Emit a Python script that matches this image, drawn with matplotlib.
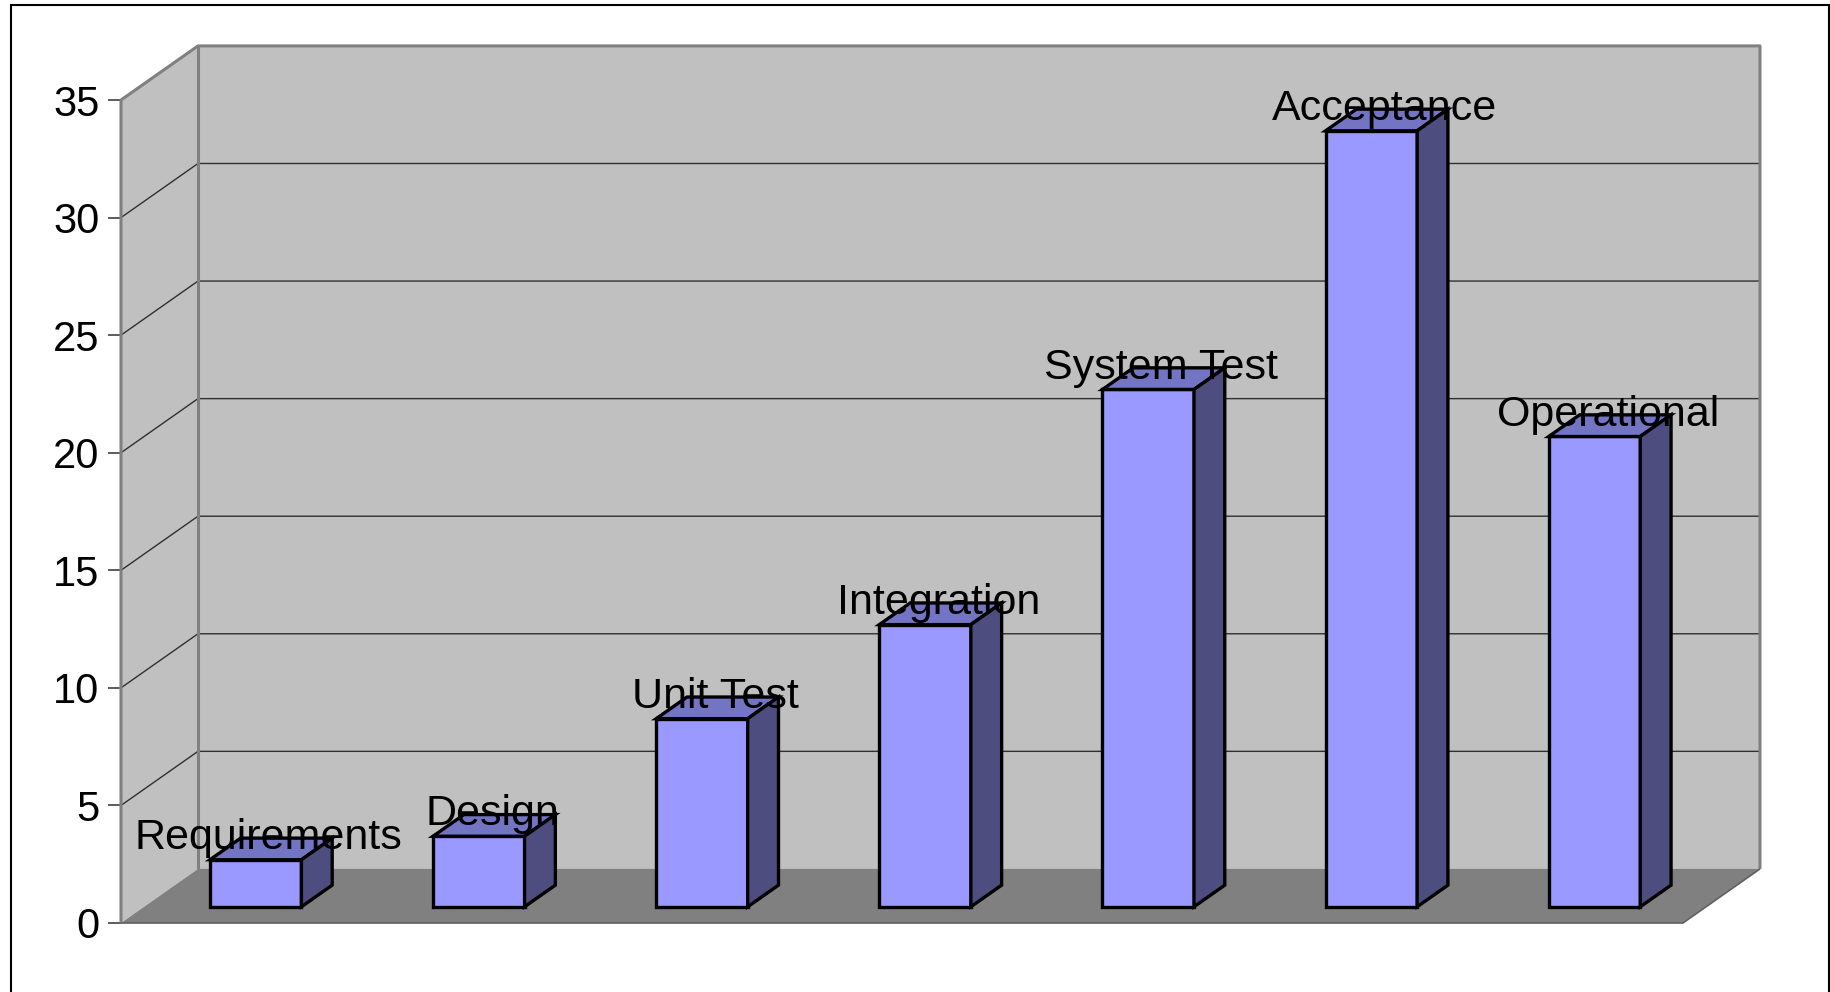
import matplotlib
matplotlib.use("Agg")
import matplotlib.pyplot as plt
from matplotlib.patches import Polygon, Rectangle

# datos del gráfico
fases = ["Requirements", "Design", "Unit Test", "Integration",
         "System Test", "Acceptance", "Operational"]
valores = [2, 3, 8, 12, 22, 33, 20]
ticks_y = [0, 5, 10, 15, 20, 25, 30, 35]

plt.rcParams["font.family"] = ["Liberation Sans", "DejaVu Sans"]

# profundidad del efecto 3D (en unidades de datos)
PROF_X = 0.345
PROF_Y = 2.30
# la barra ocupa de la profundidad 0.3 a la 0.7
P0, P1 = 0.3, 0.7
ANCHO = 0.41
YMAX = 35

C_PARED = "#C0C0C0"
C_SUELO = "#808080"
C_BORDE = "#808080"
C_FRENTE = "#9999FF"
C_TECHO = "#7474C4"
C_LADO = "#4D4D80"

fig = plt.figure(figsize=(18.31, 9.92), dpi=100)
ax = fig.add_axes([121 / 1831, 69 / 992, 1562 / 1831, 823 / 992])
ax.patch.set_visible(False)
n = len(fases)
ax.set_xlim(0, n)
ax.set_ylim(0, YMAX)


def poly(puntos, color, ec="none", lw=0, z=1):
    ax.add_patch(Polygon(puntos, closed=True, facecolor=color, edgecolor=ec,
                         linewidth=lw, clip_on=False, zorder=z, joinstyle="miter"))


def linea(xs, ys, color, lw, z=2):
    ax.plot(xs, ys, color=color, linewidth=lw, clip_on=False, zorder=z,
            solid_capstyle="butt")


# pared del fondo, pared izquierda y suelo
poly([(PROF_X, PROF_Y), (n + PROF_X, PROF_Y), (n + PROF_X, YMAX + PROF_Y),
      (PROF_X, YMAX + PROF_Y)], C_PARED)
poly([(0, 0), (PROF_X, PROF_Y), (PROF_X, YMAX + PROF_Y), (0, YMAX)], C_PARED)
poly([(0, 0), (n, 0), (n + PROF_X, PROF_Y), (PROF_X, PROF_Y)], C_SUELO)

# lineas de división
for v in ticks_y[1:-1]:
    linea([0, PROF_X, n + PROF_X], [v, v + PROF_Y, v + PROF_Y], "#303030", 1.0)

# bordes de las paredes
linea([0, 0, PROF_X, n + PROF_X, n + PROF_X],
      [0, YMAX, YMAX + PROF_Y, YMAX + PROF_Y, PROF_Y], C_BORDE, 2.2, z=3)
linea([PROF_X, PROF_X], [PROF_Y, YMAX + PROF_Y], C_BORDE, 2.2, z=3)
linea([0, n, n + PROF_X], [0, 0, PROF_Y], "#606060", 1.2, z=3)

# barras en 3D
for i, (nombre, v) in enumerate(zip(fases, valores)):
    x0 = i + 0.5 - ANCHO / 2 + P0 * PROF_X
    x1 = x0 + ANCHO
    y0 = P0 * PROF_Y
    y1 = y0 + v
    dx = (P1 - P0) * PROF_X
    dy = (P1 - P0) * PROF_Y
    poly([(x0, y0), (x1, y0), (x1, y1), (x0, y1)], C_FRENTE, "black", 2.4, 5)
    poly([(x0, y1), (x1, y1), (x1 + dx, y1 + dy), (x0 + dx, y1 + dy)],
         C_TECHO, "black", 2.4, 5)
    poly([(x1, y0), (x1 + dx, y0 + dy), (x1 + dx, y1 + dy), (x1, y1)],
         C_LADO, "black", 2.4, 5)
    # etiqueta con el nombre de la fase sobre la barra
    ax.text(i + 0.49 + 0.5 * PROF_X, v + 0.5 * PROF_Y, nombre,
            ha="center", va="baseline", fontsize=31, zorder=10)

# eje y
ax.set_xticks([])
ax.set_yticks(ticks_y)
ax.tick_params(axis="y", length=9.5, width=1.2, color="#404040",
               labelsize=30, pad=6)
for s in ax.spines.values():
    s.set_visible(False)

# marco de la figura
fig.add_artist(Rectangle((10.5 / 1831, -0.1), (1818.5) / 1831, 1.1 - 5 / 992,
                         transform=fig.transFigure, fill=False,
                         edgecolor="black", linewidth=1.5))

fig.savefig("out.png", dpi=100, facecolor="white")
